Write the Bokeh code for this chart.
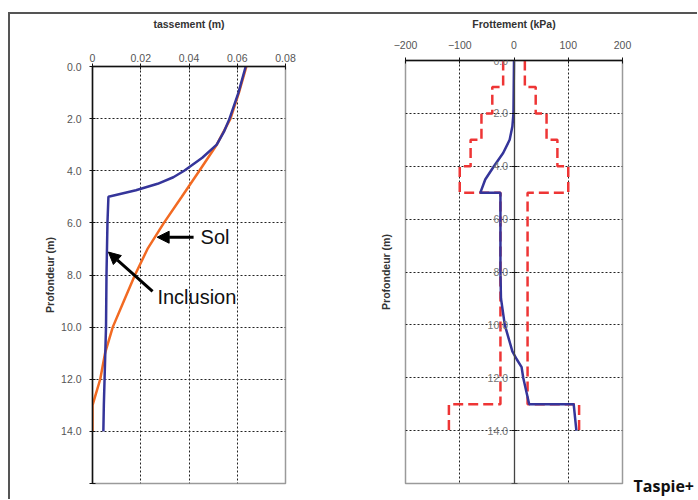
from bokeh.plotting import figure
from bokeh.layouts import row
from bokeh.models import (Range1d, LinearAxis, FixedTicker, PrintfTickFormatter,
                          CustomJSTickFormatter, Label, Arrow, NormalHead)
from bokeh.embed import file_html
from bokeh.resources import INLINE

# ---------------- data ----------------
# Left chart: settlement (m) vs depth (m)
sol_depth = [0, 1, 2, 3, 4, 5, 6, 7, 8, 9, 10, 11, 12, 13, 14]
sol_settle = [0.0638, 0.0607, 0.0572, 0.0515, 0.0443, 0.0370, 0.0296, 0.0228,
              0.0176, 0.0130, 0.0084, 0.0052, 0.0032, 0.0, 0.0]

incl_depth = [0, 1, 2, 2.5, 3, 3.5, 4, 4.25, 4.5, 4.75, 5, 6, 7, 8, 10, 12, 13, 14]
incl_settle = [0.0635, 0.0605, 0.0568, 0.0545, 0.0515, 0.0455, 0.0380, 0.0335,
               0.0270, 0.0180, 0.0066, 0.0062, 0.0060, 0.0058, 0.0056, 0.0050,
               0.0047, 0.0045]

# Right chart: friction (kPa) vs depth (m)
env_depth = [0, 1, 2, 3, 4, 5, 13, 14]          # interval edges
env_max = [20, 40, 60, 80, 100, 25, 120]        # value on each interval
env_min = [-20, -40, -60, -80, -100, -25, -120]

fr_depth = [0, 1, 2, 2.5, 3, 3.5, 4, 4.5, 5, 5, 6, 7, 8, 9, 10, 10.5, 11, 11.3,
            11.6, 12, 13, 13, 14]
fr_val = [0, -0.5, -1, -3, -8, -20, -37, -53, -62, -25, -25, -25, -25, -24, -17,
          -10, -3, 5, 14, 17, 28, 110, 115]

x1_ticks = [0, 0.02, 0.04, 0.06, 0.08]
x2_ticks = [-200, -100, 0, 100, 200]
depth_ticks = [0, 2, 4, 6, 8, 10, 12, 14, 16]
grid_depth = [2, 4, 6, 8, 10, 12, 14]

x1_title = "tassement (m)"
x2_title = "Frottement (kPa)"
y_title = "Profondeur (m)"
brand = "Taspie+"

BLUE = "#35359a"
ORANGE = "#f26a22"
RED = "#ee3535"
FONT = "Liberation Sans"


def step_path(edges, vals):
    xs, ys = [], []
    for i, v in enumerate(vals):
        xs += [v, v]
        ys += [edges[i], edges[i + 1]]
    return xs, ys


def style_common(p):
    p.background_fill_color = "white"
    p.border_fill_color = "white"
    p.outline_line_color = "#9a9a9a"
    p.outline_line_width = 1.5
    for g in (p.xgrid[0], p.ygrid[0]):
        g.grid_line_color = "#222222"
        g.grid_line_dash = "2 2"
        g.grid_line_width = 1


def style_title(ax):
    ax.axis_label_text_font = FONT
    ax.axis_label_text_font_size = "10.5px"
    ax.axis_label_text_font_style = "bold"
    ax.axis_label_text_color = "#333333"


# ---------------- left chart ----------------
p1 = figure(frame_width=193, frame_height=417, frame_align=False,
            x_range=Range1d(0, 0.08), y_range=Range1d(16, 0),
            x_axis_location="above", output_backend="svg", toolbar_location=None,
            min_border_left=82, min_border_right=65, min_border_top=52,
            min_border_bottom=16)
style_common(p1)
p1.xgrid.ticker = FixedTicker(ticks=[0.02, 0.04, 0.06])
p1.ygrid.ticker = FixedTicker(ticks=grid_depth)

xa = p1.xaxis[0]
xa.ticker = FixedTicker(ticks=x1_ticks)
xa.formatter = CustomJSTickFormatter(code="return String(Math.round(tick*100)/100)")
xa.axis_label = x1_title
ya = p1.yaxis[0]
ya.ticker = FixedTicker(ticks=depth_ticks)
ya.formatter = PrintfTickFormatter(format="%.1f")
ya.major_label_overrides = {16: ""}
ya.axis_label = y_title

for ax in (xa, ya):
    ax.axis_line_color = "#111111"
    ax.axis_line_width = 1.5
    ax.major_tick_in = 3
    ax.major_tick_out = 3
    ax.major_tick_line_color = "#111111"
    ax.minor_tick_line_color = None
    ax.major_label_text_font = FONT
    ax.major_label_text_font_size = "10.5px"
    ax.major_label_text_color = "#555555"
    style_title(ax)
xa.major_label_standoff = 2
xa.axis_label_standoff = 21
ya.major_label_standoff = 8
ya.axis_label_standoff = 2

p1.line(sol_settle, sol_depth, line_color=ORANGE, line_width=2.5)
p1.line(incl_settle, incl_depth, line_color=BLUE, line_width=2.5)

p1.add_layout(Arrow(end=NormalHead(size=12, fill_color="black", line_color="black"),
                    x_start=0.0419, y_start=6.55, x_end=0.0268, y_end=6.55,
                    line_width=3, line_color="black"))
p1.add_layout(Arrow(end=NormalHead(size=12, fill_color="black", line_color="black"),
                    x_start=0.0249, y_start=8.63, x_end=0.0066, y_end=7.12,
                    line_width=3, line_color="black"))
p1.add_layout(Label(x=0.0448, y=6.55, text="Sol", text_font=FONT,
                    text_font_size="20px", text_baseline="middle", text_color="#111111"))
p1.add_layout(Label(x=0.0269, y=8.85, text="Inclusion", text_font=FONT,
                    text_font_size="20px", text_baseline="middle", text_color="#111111"))

# ---------------- right chart ----------------
p2 = figure(frame_width=217, frame_height=424, frame_align=False,
            x_range=Range1d(-200, 200), y_range=Range1d(16, 0),
            x_axis_location="above", output_backend="svg", toolbar_location=None,
            min_border_left=55, min_border_right=75, min_border_top=45,
            min_border_bottom=16)
style_common(p2)
p2.xgrid.ticker = FixedTicker(ticks=[-100, 100])
p2.ygrid.ticker = FixedTicker(ticks=grid_depth)

xb = p2.xaxis[0]
xb.ticker = FixedTicker(ticks=x2_ticks)
xb.axis_label = x2_title
style_title(xb)

yt = p2.yaxis[0]          # carries only the title
yt.ticker = FixedTicker(ticks=[])
yt.axis_label = y_title
yt.axis_line_color = None
yt.major_tick_out = 0
yt.major_tick_in = 0
yt.minor_tick_line_color = None
yt.major_label_standoff = 0
yt.axis_label_standoff = 14
style_title(yt)

yb = LinearAxis(fixed_location=0, ticker=FixedTicker(ticks=depth_ticks),
                formatter=PrintfTickFormatter(format="%.1f"))
yb.major_label_overrides = {16: ""}
p2.add_layout(yb, "left")

for ax in (xb, yb):
    ax.axis_line_color = "#111111"
    ax.axis_line_width = 1.3
    ax.major_tick_in = 3
    ax.major_tick_out = 3
    ax.major_tick_line_color = "#111111"
    ax.minor_tick_line_color = None
    ax.major_label_text_font = FONT
    ax.major_label_text_font_size = "10.5px"
    ax.major_label_text_color = "#555555"
yb.axis_line_color = "#444444"
yb.major_label_text_color = "#777777"
yb.major_label_standoff = 3
xb.major_label_standoff = 9
xb.axis_label_standoff = 8

mx, my = step_path(env_depth, env_max)
nx, ny = step_path(env_depth, env_min)
p2.line(mx, my, line_color=RED, line_width=2.5, line_dash="10 5")
p2.line(nx, ny, line_color=RED, line_width=2.5, line_dash="10 5")
p2.line(fr_val, fr_depth, line_color=BLUE, line_width=2.5)

# brand text in the right margin, near the frame's bottom
p2.add_layout(Label(x=11, y=9, x_units="screen", y_units="screen", text=brand,
                    text_font="Open Sans", text_font_style="bold",
                    text_font_size="16px", text_baseline="top",
                    text_color="#111111"), "right")

layout = row(p1, p2, margin=(12, 0, 0, 8), width=689, height=487,
             styles={"border-top": "2px solid #555555",
                     "border-left": "2px solid #555555",
                     "overflow": "hidden"})

open("out.html", "w").write(file_html(layout, INLINE))
